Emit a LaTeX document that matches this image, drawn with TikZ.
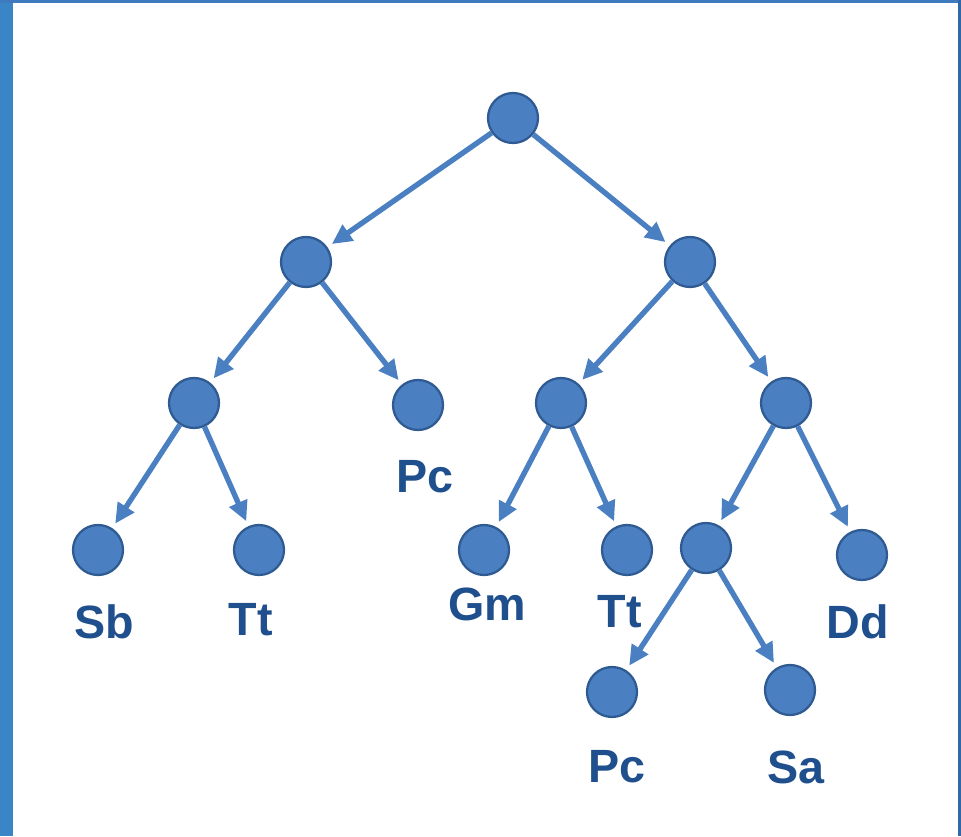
\documentclass[tikz,border=0pt]{standalone}
\usepackage{fontspec}
\setmainfont{Liberation Sans}
\usetikzlibrary{arrows.meta}
\definecolor{strip}{HTML}{3A85C5}
\definecolor{topline}{HTML}{3D7BBE}
\definecolor{rightline}{HTML}{2E68A8}
\definecolor{nodefill}{HTML}{4A80C2}
\definecolor{nodeline}{HTML}{2F5B92}
\definecolor{edgecol}{HTML}{4A80C2}
\definecolor{labelcol}{HTML}{1F4F8C}
\begin{document}
\begin{tikzpicture}[x=0.75pt,y=-0.75pt,
  vert/.style={circle,fill=nodefill,draw=nodeline,line width=1.7pt,minimum size=37.5pt,inner sep=0pt},
  edge/.style={draw=edgecol,line width=4pt,-{Triangle[length=15pt,width=14pt]},shorten >=4pt},
  lbl/.style={text=labelcol,font=\fontsize{35}{37}\selectfont\bfseries,inner sep=0pt}]
\useasboundingbox (0,0) rectangle (961,836);
\fill[white] (0,0) rectangle (961,836);
\fill[strip] (0,0) rectangle (13,836);
\fill[topline] (0,0) rectangle (961,3);
\fill[rightline] (958,0) rectangle (961,836);
% nodes
\node[vert] (r) at (513,118) {};
\node[vert] (a) at (306,262) {};
\node[vert] (b) at (690,262) {};
\node[vert] (a1) at (194,403) {};
\node[vert] (a2) at (418,405) {};
\node[vert] (b1) at (561,403) {};
\node[vert] (b2) at (786,403) {};
\node[vert] (c1) at (98,550) {};
\node[vert] (c2) at (259,550) {};
\node[vert] (c3) at (484,550) {};
\node[vert] (c4) at (627,550) {};
\node[vert] (c5) at (706,548) {};
\node[vert] (c6) at (862,555) {};
\node[vert] (d1) at (612,692) {};
\node[vert] (d2) at (790,690) {};
% edges
\draw[edge] (r) -- (a);
\draw[edge] (r) -- (b);
\draw[edge] (a) -- (a1);
\draw[edge] (a) -- (a2);
\draw[edge] (b) -- (b1);
\draw[edge] (b) -- (b2);
\draw[edge] (a1) -- (c1);
\draw[edge] (a1) -- (c2);
\draw[edge] (b1) -- (c3);
\draw[edge] (b1) -- (c4);
\draw[edge] (b2) -- (c5);
\draw[edge] (b2) -- (c6);
\draw[edge] (c5) -- (d1);
\draw[edge] (c5) -- (d2);
% labels
\node[lbl] (l1) at (104,622) {Sb};
\node[lbl] (l2) at (251,620) {Tt};
\node[lbl] (l3) at (425,477) {Pc};
\node[lbl] (l4) at (487,604) {Gm};
\node[lbl] (l5) at (620,612) {Tt};
\node[lbl] (l6) at (858,622) {Dd};
\node[lbl] (l7) at (617,767) {Pc};
\node[lbl] (l8) at (796,767) {Sa};
\end{tikzpicture}
\end{document}
